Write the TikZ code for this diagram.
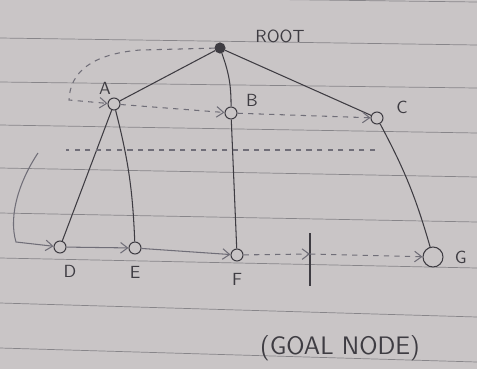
\documentclass[tikz,border=0pt]{standalone}
\usetikzlibrary{arrows.meta}
\definecolor{paper}{RGB}{201,197,198}
\definecolor{rule}{RGB}{135,133,137}
\definecolor{ink}{RGB}{62,60,66}
\definecolor{pencil}{RGB}{112,110,120}
\begin{document}
\begin{tikzpicture}[x=0.02cm, y=-0.02cm, semithick, ink, font=\sffamily,
    label distance=0.1cm,
    treenode/.style={circle,draw=ink,fill=paper,inner sep=0pt,minimum size=0.24cm},
    root node/.style={circle,draw=ink,fill=ink,inner sep=0pt,minimum size=0.2cm},
    goal node/.style={treenode,minimum size=0.4cm},
    visit/.style={dashed,pencil,-{Straight Barb[length=4pt,width=6pt]}},
    walk/.style={pencil,-{Straight Barb[length=4pt,width=6pt]}} ]
    % paper
    \fill [paper] (0,0) rectangle (477,369);
    \useasboundingbox (0,0) rectangle (477,369);
    \foreach \y/\d in {-4/6, 38/7, 82/6, 125/8, 168/9, 213/9, 258/10, 303/14, 348/14}
        \draw [rule, thin] (0,\y) -- (477,\y+\d);
    % tree
    \node at (220,48) [root node] (R) {};
    \node at (114,104) [treenode] (A) {};
    \node at (231,113) [treenode] (B) {};
    \node at (377,118) [treenode] (C) {};
    \node at (60,247) [treenode,label={[xshift=0.2cm]below:D}] (D) {};
    \node at (135,248) [treenode,label=below:E] (E) {};
    \node at (237,255) [treenode,label=below:F] (F) {};
    \node at (433,257) [goal node,label=right:G] (G) {};
    \node at (280,36) (lroot) {ROOT};
    \node at (105,88) (lA) {A};
    \node at (252,100) (lB) {B};
    \node at (402,107) (lC) {C};
    \node at (340,348) (lgoal) {\Large (GOAL NODE)};
    \draw [-] (R) to (A);
    \draw [-] (R) to[bend left=10] (B);
    \draw [-] (R) to (C);
    \draw [-] (A) to (D);
    \draw [-] (A) to[bend left=6] (E);
    \draw [-] (B) to (F);
    \draw [-] (C) to[bend left=6] (G);
    % order of visit
    \coordinate (r1) at (140,50);
    \coordinate (r2) at (92,54);
    \coordinate (r3) at (70,72);
    \coordinate (r4) at (69,100);
    \draw [visit] (R) -- (r1) .. controls (r2) and (r3) .. (r4) -- (A);
    \draw [visit] (A) -- (B);
    \draw [visit] (B) -- (C);
    \coordinate (c1) at (375,150);
    \coordinate (c2) at (66,150);
    \draw [dashed, pencil] (c1) -- (c2);
    \coordinate (c3) at (38,153);
    \coordinate (c4) at (20,180);
    \coordinate (c5) at (8,215);
    \coordinate (c6) at (16,242);
    \draw [walk] (c3) .. controls (c4) and (c5) .. (c6) -- (D);
    \draw [walk] (D) -- (E);
    \draw [walk] (E) -- (F);
    \coordinate (t1) at (310,233);
    \coordinate (t2) at (310,286);
    \coordinate (tm) at (310,254);
    \draw [-] (t1) -- (t2);
    \draw [visit] (F) -- (tm);
    \draw [visit] (tm) -- (G);
\end{tikzpicture}
\end{document}
